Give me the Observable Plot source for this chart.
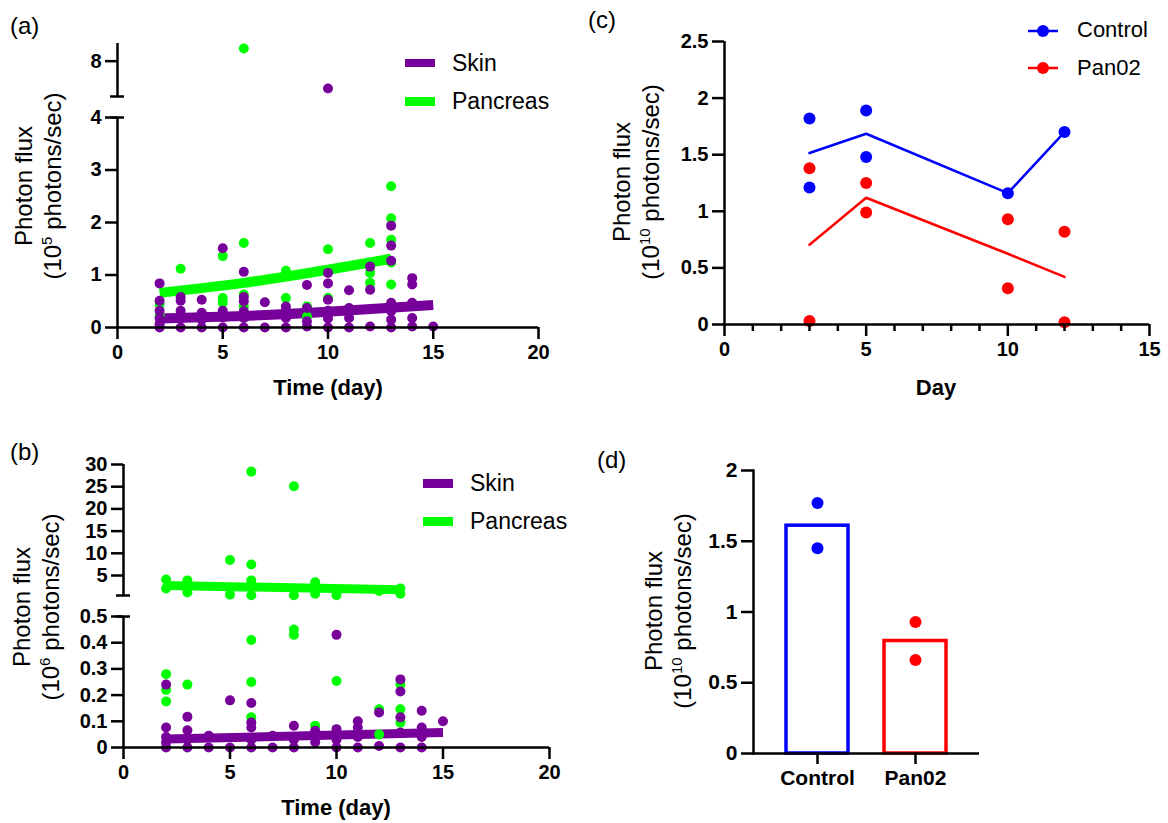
<!DOCTYPE html>
<html><head><meta charset="utf-8">
<script src="https://cdn.jsdelivr.net/npm/d3@7"></script>
<script src="https://cdn.jsdelivr.net/npm/@observablehq/plot@0.6"></script>
<style>
body{margin:0;background:#fff;}
#fig{position:relative;width:1168px;height:823px;overflow:hidden;font-family:"Liberation Sans",Arial,sans-serif;background:#fff;color:#000;}
#fig svg text{font-weight:bold !important;font-size:20px;font-family:"Liberation Sans",Arial,sans-serif;}
#fig svg.pd text{font-size:21px;}
.plab{position:absolute;font-size:24px;line-height:24px;}
.ytitle{position:absolute;transform:translate(-50%,-50%) rotate(-90deg);font-size:24px;line-height:29px;text-align:center;white-space:nowrap;}
.xtitle{position:absolute;transform:translate(-50%,-50%);font-size:22px;font-weight:bold;white-space:nowrap;}
.sup{font-size:15px;vertical-align:9px;line-height:0;}
.legtxt{position:absolute;transform:translateY(-50%);font-size:23px;white-space:nowrap;}
.sw{position:absolute;}
</style></head>
<body><div id="fig"></div>
<script>
// ---------- DATA ----------
// Panel (a): [day, photon flux (1e5 photons/sec)]
const aSkin = [
  [2,0.84],[2,0.51],[2,0.32],[2,0.17],[2,0.06],[2,0],
  [3,0.58],[3,0.51],[3,0.32],[3,0.18],[3,0],
  [4,0.53],[4,0.28],[4,0.15],[4,0],
  [5,1.51],[5,0.32],[5,0.19],[5,0],
  [6,1.06],[6,0.58],[6,0.50],[6,0.31],[6,0.18],[6,0],
  [7,0.48],[7,0.24],[7,0],
  [8,0.40],[8,0.32],[8,0.18],[8,0],
  [9,0.81],[9,0.37],[9,0.12],[9,0.02],
  [10,6.45],[10,1.04],[10,0.84],[10,0.53],[10,0.32],[10,0.17],[10,0],
  [11,0.71],[11,0.37],[11,0.18],[11,0],
  [12,1.16],[12,0.72],[12,0.02],
  [13,1.94],[13,1.56],[13,1.27],[13,0.47],[13,0.31],[13,0.15],[13,0],
  [14,0.94],[14,0.82],[14,0.47],[14,0.18],[14,0.02],
  [15,0.02]
];
const aPancreas = [
  [2,0.45],[2,0.22],
  [3,1.12],
  [5,1.36],[5,0.56],[5,0.47],
  [6,8.72],[6,1.61],[6,0.63],[6,0.40],
  [8,1.08],[8,0.56],
  [9,0.40],[9,0.21],
  [10,1.49],[10,0.56],
  [12,1.61],[12,1.04],[12,0.85],
  [13,2.69],[13,2.08],[13,1.67],[13,1.24],[13,0.82]
];
const aSkinFit = [[2,0.17],[6,0.22],[10,0.30],[15,0.43]];
const aPancFit = [[2,0.66],[4,0.75],[6,0.85],[8,0.97],[10,1.10],[13,1.31]];
const aLowerDomain = [0,4], aUpperDomain = [6,9];
const aLowerTicks = [0,1,2,3,4], aUpperTicks = [8];
const abXTicks = [0,5,10,15,20];

// Panel (b): [day, photon flux (1e6 photons/sec)]
const bSkin = [
  [2,0.24],[2,0.076],[2,0.04],[2,0.02],[2,0],
  [3,0.117],[3,0.066],[3,0.03],[3,0],
  [4,0.045],[4,0],
  [5,0.18],[5,0],
  [6,0.17],[6,0.095],[6,0.076],[6,0.03],[6,0],
  [7,0.045],[7,0],
  [8,0.083],[8,0.03],[8,0],
  [9,0.064],[9,0.02],
  [10,0.43],[10,0.07],[10,0.03],[10,0],
  [11,0.10],[11,0.076],[11,0.04],[11,0],
  [12,0.134],[12,0.006],
  [13,0.26],[13,0.214],[13,0.115],[13,0.057],[13,0],
  [14,0.14],[14,0.076],[14,0.04],[14,0],
  [15,0.10]
];
const bPancreas = [
  [2,4.1],[2,2.1],[2,0.28],[2,0.22],[2,0.176],
  [3,3.9],[3,1.2],[3,0.24],
  [5,8.5],[5,0.7],
  [6,28.4],[6,7.5],[6,3.9],[6,2.4],[6,0.55],[6,0.41],[6,0.25],[6,0.115],
  [8,25.1],[8,0.55],[8,0.45],[8,0.43],
  [9,3.5],[9,0.9],[9,0.083],
  [10,0.55],[10,0.254],
  [12,1.5],[12,0.146],[12,0.05],
  [13,2.1],[13,0.9],[13,0.24],[13,0.146],[13,0.095]
];
const bSkinFit = [[2,0.032],[15,0.057]];
const bPancFit = [[2,2.75],[13,1.8]];
const bLowerDomain = [0,0.5], bUpperDomain = [0.5,30];
const bLowerTicks = [0,0.1,0.2,0.3,0.4,0.5], bUpperTicks = [5,10,15,20,25,30];

// Panel (c): [day, photon flux (1e10 photons/sec)]
const cControl = [[3,1.82],[3,1.21],[5,1.89],[5,1.48],[10,1.16],[12,1.70]];
const cPan02 = [[3,1.38],[3,0.03],[5,1.25],[5,0.99],[10,0.93],[10,0.32],[12,0.82],[12,0.02]];
const cYTicks = [0,0.5,1,1.5,2,2.5];
const cXTicks = [0,5,10,15];
const cXMinor = [1,2,3,4,6,7,8,9,11,12,13,14];

// Panel (d)
const dGroups = ["Control","Pan02"];
const dControl = [1.77,1.45];
const dPan02 = [0.93,0.66];
const dYTicks = [0,0.5,1,1.5,2];

// ---------- STYLE ----------
const PURPLE = "#77009b", GREEN = "#00ff00", BLUE = "#0000ff", RED = "#ff0000";
const FONT = '"Liberation Sans", Arial, sans-serif';
const baseStyle = {fontFamily: FONT, fontSize: "20px", fontWeight: "bold", color: "black", background: "transparent", overflow: "visible"};
const AX = {stroke: "black", strokeWidth: 2.5};
const TXT = {fontWeight: "bold", fill: "black"};
const fmt = v => String(v);
const fig = document.getElementById("fig");
const toObj = a => a.map(([day, value]) => ({day, value}));
function place(el, left, top) { el.style.position = "absolute"; el.style.left = left + "px"; el.style.top = top + "px"; fig.appendChild(el); }
function addDiv(cls, html, left, top, extra) { const d = document.createElement("div"); d.className = cls; d.innerHTML = html; d.style.left = left + "px"; d.style.top = top + "px"; if (extra) Object.assign(d.style, extra); fig.appendChild(d); return d; }

// ---------- PANEL A ----------
{
  const skin = toObj(aSkin), panc = toObj(aPancreas);
  const lo = d => d.value <= aLowerDomain[1], hi = d => d.value >= aUpperDomain[0];
  const R = 5;
  const up = Plot.plot({
    width: 570, height: 80, marginLeft: 117, marginRight: 32, marginTop: 13, marginBottom: 14,
    style: baseStyle,
    x: {domain: [0,20], axis: null, label: null},
    y: {domain: aUpperDomain, label: null},
    marks: [
      Plot.dot(panc.filter(hi), {x: "day", y: "value", r: R, fill: GREEN}),
      Plot.dot(skin.filter(hi), {x: "day", y: "value", r: R, fill: PURPLE}),
      Plot.ruleX([0], AX),
      Plot.ruleY([aUpperDomain[0]], {x1: -0.33, x2: 0.33, ...AX}),
      Plot.axisY(aUpperTicks, {tickSize: 12, tickPadding: 4, ...AX, ...TXT, tickFormat: fmt, label: null})
    ]
  });
  place(up, 0, 30);
  const low = Plot.plot({
    width: 570, height: 270, marginLeft: 117, marginRight: 32, marginTop: 17, marginBottom: 43,
    style: baseStyle,
    x: {domain: [0,20], label: null},
    y: {domain: aLowerDomain, label: null},
    marks: [
      Plot.line(toObj(aPancFit), {x: "day", y: "value", stroke: GREEN, strokeWidth: 10, strokeLinecap: "butt", curve: "natural"}),
      Plot.line(toObj(aSkinFit), {x: "day", y: "value", stroke: PURPLE, strokeWidth: 10, strokeLinecap: "butt", curve: "natural"}),
      Plot.dot(panc.filter(lo), {x: "day", y: "value", r: R, fill: GREEN}),
      Plot.dot(skin.filter(lo), {x: "day", y: "value", r: R, fill: PURPLE}),
      Plot.ruleX([0], AX),
      Plot.ruleY([0], AX),
      Plot.ruleY([aLowerDomain[1]], {x1: -0.33, x2: 0.33, ...AX}),
      Plot.axisY(aLowerTicks, {tickSize: 12, tickPadding: 4, ...AX, ...TXT, tickFormat: fmt, label: null}),
      Plot.axisX(abXTicks, {tickSize: 12, tickPadding: 5, ...AX, ...TXT, tickFormat: fmt, label: null})
    ]
  });
  place(low, 0, 100);
  addDiv("plab", "(a)", 10, 14);
  addDiv("ytitle", 'Photon flux<br>(10<span class="sup">5</span> photons/sec)', 38, 186);
  addDiv("xtitle", "Time (day)", 328, 388);
  addDiv("sw", "", 405, 59, {width: "30px", height: "8px", background: PURPLE});
  addDiv("sw", "", 405, 97, {width: "30px", height: "9px", background: GREEN});
  addDiv("legtxt", "Skin", 452, 63);
  addDiv("legtxt", "Pancreas", 452, 101);
}

// ---------- PANEL B ----------
{
  const skin = toObj(bSkin), panc = toObj(bPancreas);
  const lo = d => d.value <= bLowerDomain[1], hi = d => d.value > bUpperDomain[0];
  const R = 5;
  const up = Plot.plot({
    width: 580, height: 160, marginLeft: 123, marginRight: 31, marginTop: 14, marginBottom: 15,
    style: baseStyle,
    x: {domain: [0,20], axis: null, label: null},
    y: {domain: bUpperDomain, label: null},
    marks: [
      Plot.line(toObj(bPancFit), {x: "day", y: "value", stroke: GREEN, strokeWidth: 9, strokeLinecap: "butt"}),
      Plot.dot(panc.filter(hi), {x: "day", y: "value", r: R, fill: GREEN}),
      Plot.dot(skin.filter(hi), {x: "day", y: "value", r: R, fill: PURPLE}),
      Plot.ruleX([0], AX),
      Plot.ruleY([bUpperDomain[0]], {x1: -0.33, x2: 0.33, ...AX}),
      Plot.axisY(bUpperTicks, {tickSize: 12, tickPadding: 4, ...AX, ...TXT, tickFormat: fmt, label: null})
    ]
  });
  place(up, 0, 450);
  const low = Plot.plot({
    width: 580, height: 223, marginLeft: 123, marginRight: 31, marginTop: 16, marginBottom: 76,
    style: baseStyle,
    x: {domain: [0,20], label: null},
    y: {domain: bLowerDomain, label: null},
    marks: [
      Plot.line(toObj(bSkinFit), {x: "day", y: "value", stroke: PURPLE, strokeWidth: 9, strokeLinecap: "butt"}),
      Plot.dot(panc.filter(lo), {x: "day", y: "value", r: R, fill: GREEN}),
      Plot.dot(skin.filter(lo), {x: "day", y: "value", r: R, fill: PURPLE}),
      Plot.ruleX([0], AX),
      Plot.ruleY([0], AX),
      Plot.ruleY([bLowerDomain[1]], {x1: -0.33, x2: 0.33, ...AX}),
      Plot.axisY(bLowerTicks, {tickSize: 12, tickPadding: 4, ...AX, ...TXT, tickFormat: fmt, label: null}),
      Plot.axisX(abXTicks, {tickSize: 12, tickPadding: 5, ...AX, ...TXT, tickFormat: fmt, label: null})
    ]
  });
  place(low, 0, 600);
  addDiv("plab", "(b)", 10, 440);
  addDiv("ytitle", 'Photon flux<br>(10<span class="sup">6</span> photons/sec)', 36, 607);
  addDiv("xtitle", "Time (day)", 336, 808);
  addDiv("sw", "", 423, 479, {width: "30px", height: "9px", background: PURPLE});
  addDiv("sw", "", 423, 517, {width: "30px", height: "9px", background: GREEN});
  addDiv("legtxt", "Skin", 470, 483);
  addDiv("legtxt", "Pancreas", 470, 521);
}

// ---------- PANEL C ----------
{
  const ctl = toObj(cControl), pan = toObj(cPan02);
  const c = Plot.plot({
    width: 580, height: 360, marginLeft: 124, marginRight: 31, marginTop: 21, marginBottom: 56,
    style: baseStyle,
    x: {domain: [0,15], label: null},
    y: {domain: [0,2.5], label: null},
    marks: [
      Plot.lineY(ctl, Plot.groupX({y: "mean"}, {x: "day", y: "value", stroke: BLUE, strokeWidth: 2.5})),
      Plot.lineY(pan, Plot.groupX({y: "mean"}, {x: "day", y: "value", stroke: RED, strokeWidth: 2.5})),
      Plot.dot(ctl, {x: "day", y: "value", r: 6, fill: BLUE}),
      Plot.dot(pan, {x: "day", y: "value", r: 6, fill: RED}),
      Plot.ruleX([0], AX),
      Plot.ruleY([0], AX),
      Plot.axisY(cYTicks, {tickSize: 12, tickPadding: 4, ...AX, ...TXT, tickFormat: fmt, label: null}),
      Plot.axisX(cXMinor, {tickSize: 7, ...AX, tickFormat: () => "", label: null}),
      Plot.axisX(cXTicks, {tickSize: 12, tickPadding: 5, ...AX, ...TXT, tickFormat: fmt, label: null})
    ]
  });
  place(c, 600, 20);
  addDiv("plab", "(c)", 588, 8);
  addDiv("ytitle", 'Photon flux<br>(10<span class="sup">10</span> photons/sec)', 636, 182);
  addDiv("xtitle", "Day", 936, 388);
  const leg = (color, y) => addDiv("sw", `<svg width="32" height="14"><line x1="1" y1="7" x2="31" y2="7" stroke="${color}" stroke-width="2.5"/><circle cx="16" cy="7" r="6" fill="${color}"/></svg>`, 1027, y - 7, {lineHeight: "0"});
  leg(BLUE, 31); leg(RED, 68);
  addDiv("legtxt", "Control", 1077, 30, {fontSize: "22px"});
  addDiv("legtxt", "Pan02", 1077, 68, {fontSize: "22px"});
}

// ---------- PANEL D ----------
{
  const dc = dControl.map(value => ({group: dGroups[0], value}));
  const dp = dPan02.map(value => ({group: dGroups[1], value}));
  const d = Plot.plot({
    width: 300, height: 373, marginLeft: 63, marginRight: 11, marginTop: 20, marginBottom: 70,
    className: "pd",
    style: baseStyle,
    x: {type: "band", domain: dGroups, paddingInner: 0.37, paddingOuter: 0.334, label: null},
    y: {domain: [0,2], label: null},
    marks: [
      Plot.barY(dc, Plot.groupX({y: "mean"}, {x: "group", y: "value", fill: "white", stroke: BLUE, strokeWidth: 3.5})),
      Plot.barY(dp, Plot.groupX({y: "mean"}, {x: "group", y: "value", fill: "white", stroke: RED, strokeWidth: 3.5})),
      Plot.dot(dc, {x: "group", y: "value", r: 6, fill: BLUE}),
      Plot.dot(dp, {x: "group", y: "value", r: 6, fill: RED}),
      Plot.frame({anchor: "left", ...AX}),
      Plot.ruleY([0], AX),
      Plot.axisY(dYTicks, {tickSize: 12, tickPadding: 4, ...AX, ...TXT, tickFormat: fmt, label: null}),
      Plot.axisX({tickSize: 11, tickPadding: 6, ...AX, ...TXT, label: null})
    ]
  });
  d.classList.add("pd");
  place(d, 690, 450);
  addDiv("plab", "(d)", 597, 448);
  addDiv("ytitle", 'Photon flux<br>(10<span class="sup">10</span> photons/sec)', 668, 611);
}
</script></body></html>
